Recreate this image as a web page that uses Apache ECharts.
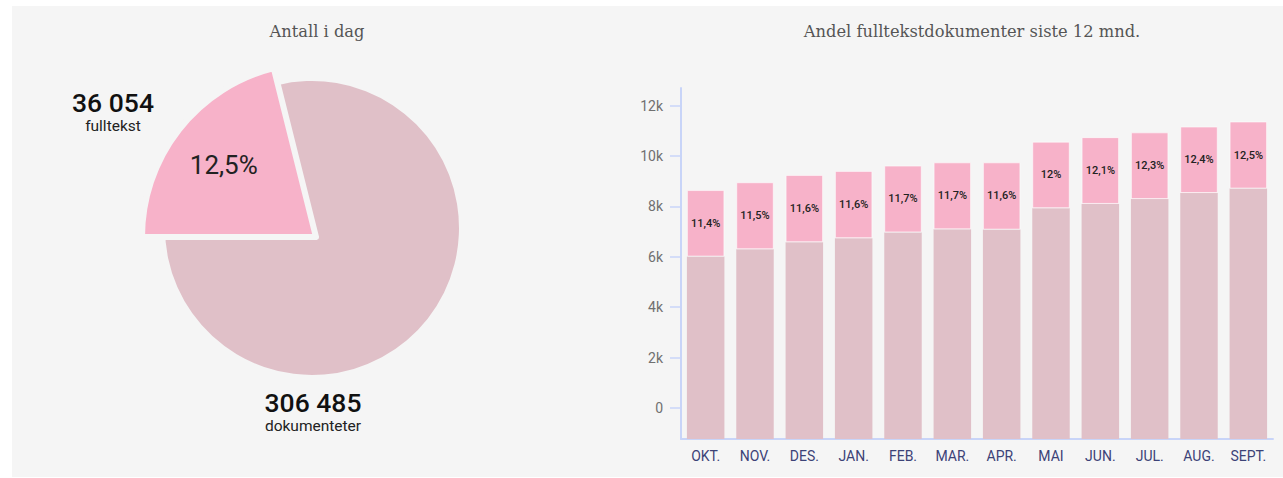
<!DOCTYPE html>
<html>
<head>
<meta charset="utf-8">
<script src="https://cdn.jsdelivr.net/npm/echarts@6/dist/echarts.min.js"></script>
<style>
  body { margin: 0; background: #fff; }
  #panel { position: absolute; left: 12px; top: 6px; width: 1271px; height: 471px; background: #f5f5f5; }
  #container { position: absolute; left: 0; top: 0; width: 1283px; height: 478px; }
</style>
</head>
<body>
<div id="panel"></div>
<div id="container"></div>
<script>
// måneder
var months = ["OKT.", "NOV.", "DES.", "JAN.", "FEB.", "MAR.", "APR.", "MAI", "JUN.", "JUL.", "AUG.", "SEPT."];
// dokumenter uten fulltekst (nederste del), i antall
var docValues = [6010, 6300, 6580, 6740, 6970, 7090, 7080, 7930, 8100, 8290, 8530, 8710];
// fulltekst (øverste del)
var fullValues = [2640, 2660, 2670, 2670, 2650, 2660, 2670, 2640, 2650, 2650, 2640, 2660];
var pctLabels = ["11,4%", "11,5%", "11,6%", "11,6%", "11,7%", "11,7%", "11,6%", "12%", "12,1%", "12,3%", "12,4%", "12,5%"];
var yTicks = [0, 2000, 4000, 6000, 8000, 10000, 12000];
var yMin = -1230;
var yMax = 12700;

// kakediagram: andeler lest av vinkelen i bildet
var pieNames = ["fulltekst", "dokumenteter"];
var pieShares = [21.1, 78.9];
var pieCounts = ["36 054", "306 485"];
var piePct = "12,5%";

var pink = "#f7b2c9";
var rose = "#e0c0c8";
var axisColor = "#c8d4f8";

var myChart = echarts.init(document.getElementById("container"), null, { renderer: "svg" });

var numberTitle = function(i, left, top) {
  return {
    text: pieCounts[i],
    subtext: pieNames[i],
    left: left,
    top: top,
    padding: 0,
    textAlign: "center",
    itemGap: 2,
    textStyle: { fontFamily: "Roboto", fontSize: 26.5, fontWeight: 500, color: "#111" },
    subtextStyle: { fontFamily: "Roboto", fontSize: 15.5, color: "#222" }
  };
};

var headTitle = function(text, left) {
  return {
    text: text,
    left: left,
    top: 23,
    padding: 0,
    textAlign: "center",
    textStyle: { fontFamily: "DejaVu Serif", fontSize: 16.3, fontWeight: "normal", color: "#555" }
  };
};

myChart.setOption({
  animation: false,
  title: [
    headTitle("Antall i dag", 317),
    headTitle("Andel fulltekstdokumenter siste 12 mnd.", 972),
    numberTitle(0, 113, 89),
    numberTitle(1, 313, 389)
  ],
  grid: { left: 681, right: 10, top: 88, bottom: 39 },
  xAxis: {
    type: "category",
    data: months,
    axisLine: { onZero: false, lineStyle: { color: axisColor, width: 2 } },
    axisTick: { show: false },
    axisLabel: { color: "#3c4277", fontFamily: "Roboto", fontSize: 14, margin: 10 }
  },
  yAxis: {
    type: "value",
    min: yMin,
    max: yMax,
    axisLine: { show: true, lineStyle: { color: axisColor, width: 2 } },
    axisTick: { show: true, customValues: yTicks, length: 11, lineStyle: { color: axisColor, width: 1.5 } },
    axisLabel: {
      customValues: yTicks,
      margin: 18,
      color: "#707070",
      fontFamily: "Roboto",
      fontSize: 14,
      formatter: function(v) { return v === 0 ? "0" : v / 1000 + "k"; }
    },
    splitLine: { show: false }
  },
  series: [
    {
      // fyller søylen ned til aksen under 0
      name: "base",
      type: "bar",
      stack: "total",
      barWidth: 37.5,
      silent: true,
      data: months.map(function() { return yMin; }),
      itemStyle: { color: rose }
    },
    {
      name: "dokumenter",
      type: "bar",
      stack: "total",
      barWidth: 37.5,
      data: docValues,
      itemStyle: { color: rose }
    },
    {
      name: "fulltekst",
      type: "bar",
      stack: "total",
      barWidth: 37.5,
      data: fullValues,
      itemStyle: { color: pink, borderColor: "rgba(255,255,255,0.55)", borderWidth: 1 },
      label: {
        show: true,
        position: "inside",
        fontFamily: "Roboto",
        fontSize: 11,
        fontWeight: 500,
        color: "#222",
        formatter: function(p) { return pctLabels[p.dataIndex]; }
      }
    },
    {
      name: "alle",
      type: "pie",
      center: [312, 228],
      radius: 147,
      startAngle: 180,
      silent: true,
      label: { show: false },
      labelLine: { show: false },
      data: pieShares.map(function(v, i) { return { name: pieNames[i], value: v }; }),
      itemStyle: { color: rose }
    },
    {
      name: "fulltekst-andel",
      type: "pie",
      center: [316, 237],
      radius: 174,
      startAngle: 180,
      silent: true,
      label: { show: false },
      labelLine: { show: false },
      data: [
        { name: pieNames[0], value: pieShares[0], itemStyle: { color: pink, borderColor: "#f5f5f5", borderWidth: 6 } },
        { name: pieNames[1], value: pieShares[1], itemStyle: { color: "transparent", borderWidth: 0 } }
      ]
    },
    {
      // kun for å plassere prosentteksten
      name: "etikett",
      type: "pie",
      center: [316, 237],
      radius: 228,
      startAngle: 180,
      silent: true,
      labelLine: { show: false },
      itemStyle: { color: "transparent" },
      data: [
        { name: pieNames[0], value: pieShares[0], label: { show: true, position: "inside", formatter: piePct, fontFamily: "Roboto", fontSize: 26, color: "#222" } },
        { name: pieNames[1], value: pieShares[1], label: { show: false } }
      ]
    }
  ]
});
</script>
</body>
</html>
